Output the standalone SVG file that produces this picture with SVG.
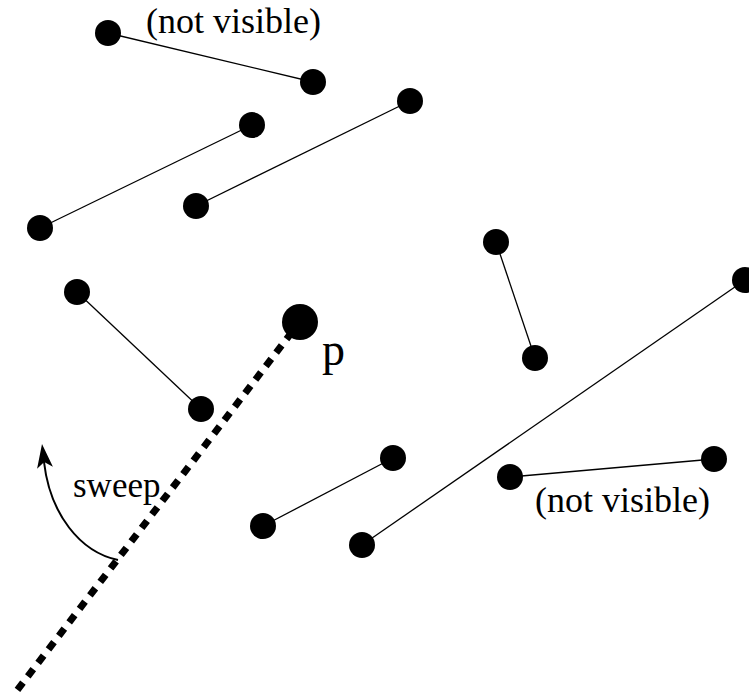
<svg xmlns="http://www.w3.org/2000/svg" width="749" height="698" viewBox="0 0 749 698">
<style>
.seg{stroke:#000;stroke-width:1.3;fill:none}
.dot{fill:#000}
.lbl{font-family:"Liberation Serif","Times New Roman",serif;fill:#000}
</style>
<rect width="749" height="698" fill="#fff"/>
<g id="connectors">
<line class="seg" x1="108" y1="33" x2="313" y2="82"/>
<line class="seg" x1="40" y1="228" x2="252" y2="125"/>
<line class="seg" x1="196" y1="206" x2="410" y2="101"/>
<line class="seg" x1="77" y1="292" x2="201" y2="409"/>
<line class="seg" x1="496" y1="242" x2="535" y2="358"/>
<line class="seg" x1="362" y1="545" x2="745" y2="280"/>
<line class="seg" x1="263" y1="526" x2="393" y2="458"/>
<line class="seg" x1="510" y1="477" x2="714" y2="459"/>
<line id="sweepline" x1="292" y1="332" x2="15" y2="693" stroke="#000" stroke-width="7" stroke-dasharray="9 8"/>
<path id="sweeparrow" d="M118,560 C80,552 50,514 44,462" fill="none" stroke="#000" stroke-width="2"/>
<polygon points="42,444 37.1,468.8 44.2,461.9 52.9,466.8" fill="#000"/>
</g>
<g id="nodes">
<circle id="n1a" class="dot" cx="108" cy="33" r="13"/>
<circle id="n1b" class="dot" cx="313" cy="82" r="13"/>
<circle id="n2a" class="dot" cx="40" cy="228" r="13"/>
<circle id="n2b" class="dot" cx="252" cy="125" r="13"/>
<circle id="n3a" class="dot" cx="196" cy="206" r="13"/>
<circle id="n3b" class="dot" cx="410" cy="101" r="13"/>
<circle id="n4a" class="dot" cx="77" cy="292" r="13"/>
<circle id="n4b" class="dot" cx="201" cy="409" r="13"/>
<circle id="n5a" class="dot" cx="496" cy="242" r="13"/>
<circle id="n5b" class="dot" cx="535" cy="358" r="13"/>
<circle id="n6a" class="dot" cx="362" cy="545" r="13"/>
<circle id="n6b" class="dot" cx="745" cy="280" r="13"/>
<circle id="n7a" class="dot" cx="263" cy="526" r="13"/>
<circle id="n7b" class="dot" cx="393" cy="458" r="13"/>
<circle id="n8a" class="dot" cx="510" cy="477" r="13"/>
<circle id="n8b" class="dot" cx="714" cy="459" r="13"/>
<g id="p"><circle class="dot" cx="300" cy="322" r="18"/><text class="lbl" x="322" y="365" font-size="46">p</text></g>
</g>
<g id="labels">
<text class="lbl" x="146" y="33" font-size="36">(not visible)</text>
<text class="lbl" x="535" y="512" font-size="36">(not visible)</text>
<text class="lbl" x="73" y="497" font-size="35">sweep</text>
</g>
</svg>
